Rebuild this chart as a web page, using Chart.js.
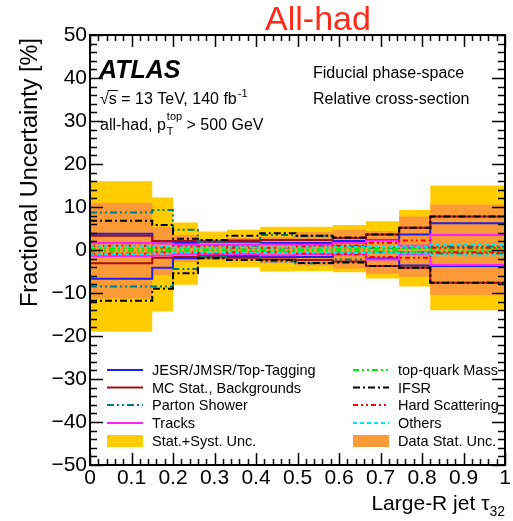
<!DOCTYPE html>
<html><head><meta charset="utf-8">
<script src="https://cdn.jsdelivr.net/npm/chart.js@4/dist/chart.umd.min.js"></script>
<style>html,body{margin:0;padding:0;background:#fff;} canvas{display:block;}</style>
</head><body>
<canvas id="c" width="513" height="521"></canvas>
<script>
// ---- data ----
const binEdges = [0, 0.15, 0.2, 0.26, 0.33, 0.41, 0.495, 0.585, 0.665, 0.745, 0.82, 1.0];
const totalUp    = [16.0, 12.2, 6.4, 4.3, 4.7, 5.4, 5.4, 5.8, 6.7, 9.3, 15.0];
const totalDown  = [-19.0, -14.3, -8.1, -4.0, -4.0, -5.0, -4.9, -5.2, -6.6, -8.5, -14.0];
const dataStatUp   = [11.0, 5.4, 3.5, 2.5, 2.8, 3.1, 4.2, 4.7, 4.4, 7.8, 10.6];
const dataStatDown = [-11.3, -5.8, -2.8, -2.3, -2.5, -3.0, -3.6, -4.3, -5.5, -6.2, -10.5];
const jesUp    = [3.8, 2.0, 1.7, 1.9, 1.9, 1.6, 1.6, 2.1, 2.3, 3.6, 6.2];
const jesDown  = [-6.7, -4.1, -1.9, -1.4, -1.4, -1.6, -1.6, -0.9, -2.0, -3.6, -3.7];
const mcUp     = [3.3, 2.1, 2.1, 2.0, 2.2, 2.3, 2.3, 2.8, 3.6, 5.2, 7.8];
const mcDown   = [-3.1, -1.8, -1.6, -1.7, -1.8, -2.2, -2.3, -2.7, -3.7, -4.1, -7.6];
const psUp     = [8.7, 9.3, 4.7, 2.0, 1.0, 3.5, 3.3, 0.8, 0.5, 0.5, 0.8];
const psDown   = [-8.5, -8.5, -4.4, -1.5, -1.0, -2.7, -3.1, -2.2, -0.5, -0.5, -0.8];
const tracksUp   = [1.6, 1.5, 1.2, 1.2, 1.2, 1.3, 1.2, 1.6, 2.2, 1.0, 3.5];
const tracksDown = [-1.4, -1.3, -1.0, -1.0, -1.0, -1.2, -1.0, -1.0, -2.2, -1.0, -3.5];
const massUp   = [0.3, 0.2, 0.3, 0.2, 0.2, 0.2, 0.2, 0.3, 0.3, 0.4, 0.3];
const massDown = [-0.3, -0.2, -0.3, -0.2, -0.2, -0.2, -0.2, -0.3, -0.3, -0.4, -0.3];
const ifsrUp   = [6.8, 5.8, 2.6, 2.3, 3.3, 3.9, 3.3, 2.9, 3.6, 5.2, 7.8];
const ifsrDown = [-11.8, -9.0, -5.4, -1.9, -2.3, -2.3, -3.0, -2.9, -3.7, -4.1, -7.6];
const hsUp     = [1.0, 0.6, 0.8, 0.8, 0.5, 0.5, 0.8, 1.0, 1.7, 2.2, 0.5];
const hsDown   = [-0.9, -0.6, -0.6, -0.8, -0.5, -0.5, -0.8, -1.0, -1.6, -1.8, -0.5];
const othersUp   = [1.0, 0.8, 0.6, 0.6, 0.6, 0.6, 0.6, 0.7, 0.7, 0.8, 1.2];
const othersDown = [-1.0, -0.8, -0.6, -0.6, -0.6, -0.6, -0.6, -0.7, -0.7, -0.8, -1.2];
const xTicks = [0, 0.1, 0.2, 0.3, 0.4, 0.5, 0.6, 0.7, 0.8, 0.9, 1];
const yTicks = [-50, -40, -30, -20, -10, 0, 10, 20, 30, 40, 50];

const FONT = '"Liberation Sans", Arial, Helvetica, sans-serif';

function stepData(vals) {
  const pts = vals.map((v, i) => ({x: binEdges[i], y: v}));
  pts.push({x: binEdges[vals.length], y: vals[vals.length - 1]});
  return pts;
}

const systs = [
  {label: 'JESR/JMSR/Top-Tagging', up: jesUp, down: jesDown, color: '#2020e8', dash: [], col: 0, row: 0},
  {label: 'MC Stat., Backgrounds', up: mcUp, down: mcDown, color: '#a01212', dash: [], col: 0, row: 1},
  {label: 'Parton Shower', up: psUp, down: psDown, color: '#007a7a', dash: [7, 3, 2, 3, 2, 3], col: 0, row: 2},
  {label: 'Tracks', up: tracksUp, down: tracksDown, color: '#ff22ff', dash: [], col: 0, row: 3},
  {label: 'top-quark Mass', up: massUp, down: massDown, color: '#00ee00', dash: [6, 3, 2, 3, 2, 3], col: 1, row: 0},
  {label: 'IFSR', up: ifsrUp, down: ifsrDown, color: '#000000', dash: [7, 3, 2, 3], col: 1, row: 1},
  {label: 'Hard Scattering', up: hsUp, down: hsDown, color: '#ff0000', dash: [5, 3, 2, 3, 2, 3], col: 1, row: 2},
  {label: 'Others', up: othersUp, down: othersDown, color: '#00e8e8', dash: [4, 3], col: 1, row: 3}
];
const bands = [
  {label: 'Stat.+Syst. Unc.', up: totalUp, down: totalDown, color: '#ffcc00', col: 0, row: 4, order: 30},
  {label: 'Data Stat. Unc.', up: dataStatUp, down: dataStatDown, color: '#fd9a38', col: 1, row: 4, order: 20}
];

const datasets = [];
bands.forEach(b => {
  datasets.push({data: stepData(b.up), stepped: 'before', borderWidth: 0, borderColor: 'rgba(0,0,0,0)',
    backgroundColor: b.color, fill: '+1', pointRadius: 0, order: b.order});
  datasets.push({data: stepData(b.down), stepped: 'before', borderWidth: 0, borderColor: 'rgba(0,0,0,0)',
    backgroundColor: b.color, fill: false, pointRadius: 0, order: b.order});
});
systs.forEach((s, k) => {
  [s.up, s.down].forEach(arr => {
    datasets.push({data: stepData(arr), stepped: 'before', borderWidth: 2, borderColor: s.color,
      borderDash: s.dash, fill: false, pointRadius: 0, order: 10 - k});
  });
});

const CA = {left: 90, right: 505, top: 35, bottom: 465};

const decorPlugin = {
  id: 'decor',
  afterDraw(chart) {
    const ctx = chart.ctx;
    const a = chart.chartArea;
    const xs = chart.scales.x, ys = chart.scales.y;
    ctx.save();
    ctx.strokeStyle = '#000';
    ctx.lineWidth = 2;
    ctx.strokeRect(a.left, a.top, a.right - a.left, a.bottom - a.top);
    ctx.lineWidth = 1.5;
    for (let i = 0; i <= 50; i++) {
      const v = i * 0.02;
      const px = Math.round(xs.getPixelForValue(v)) + 0.5;
      const L = (i % 5 === 0) ? 12 : 6;
      ctx.beginPath();
      ctx.moveTo(px, a.bottom); ctx.lineTo(px, a.bottom - L);
      ctx.moveTo(px, a.top); ctx.lineTo(px, a.top + L);
      ctx.stroke();
    }
    for (let i = 0; i <= 50; i++) {
      const v = -50 + i * 2;
      const py = Math.round(ys.getPixelForValue(v)) + 0.5;
      const L = (i % 5 === 0) ? 13 : 7;
      ctx.beginPath();
      ctx.moveTo(a.left, py); ctx.lineTo(a.left + L, py);
      ctx.moveTo(a.right, py); ctx.lineTo(a.right - L, py);
      ctx.stroke();
    }
    ctx.textBaseline = 'alphabetic';
    ctx.fillStyle = '#ff2b1a';
    ctx.font = '34px ' + FONT;
    ctx.textAlign = 'center';
    ctx.fillText('All-had', 318, 30);
    ctx.fillStyle = '#000';
    ctx.save();
    ctx.translate(37, 38);
    ctx.rotate(-Math.PI / 2);
    ctx.textAlign = 'right';
    ctx.font = '23.5px ' + FONT;
    ctx.fillText('Fractional Uncertainty [%]', 0, 0);
    ctx.restore();
    ctx.textAlign = 'left';
    ctx.font = '21px ' + FONT;
    const t1 = 'Large-R jet \u03C4';
    const w1 = ctx.measureText(t1).width;
    ctx.font = '14px ' + FONT;
    const w2 = ctx.measureText('32').width;
    const x0 = 505 - w1 - w2;
    ctx.font = '21px ' + FONT;
    ctx.fillText(t1, x0, 510);
    ctx.font = '14px ' + FONT;
    ctx.fillText('32', x0 + w1, 516);
    ctx.font = 'bold italic 25px ' + FONT;
    ctx.fillText('ATLAS', 99, 78);
    ctx.font = '16px ' + FONT;
    let s1 = '\u221As = 13 TeV, 140 fb';
    ctx.fillText(s1, 100, 104);
    const wr = ctx.measureText('\u221A').width;
    const wsS = ctx.measureText('s').width;
    ctx.lineWidth = 1;
    ctx.strokeStyle = '#000';
    ctx.beginPath(); ctx.moveTo(100 + wr - 1, 90.5); ctx.lineTo(100 + wr + wsS + 1, 90.5); ctx.stroke();
    let ws = ctx.measureText(s1).width;
    ctx.font = '11px ' + FONT;
    ctx.fillText('-1', 100 + ws + 1, 97);
    ctx.font = '16px ' + FONT;
    let s2 = 'all-had, p';
    ctx.fillText(s2, 100, 130);
    let w3 = ctx.measureText(s2).width;
    ctx.font = '11px ' + FONT;
    ctx.fillText('T', 100 + w3 + 1, 135);
    ctx.fillText('top', 100 + w3 + 1, 120);
    let wt = ctx.measureText('top').width;
    ctx.font = '16px ' + FONT;
    ctx.fillText(' > 500 GeV', 100 + w3 + 1 + wt, 130);
    ctx.fillText('Fiducial phase-space', 313, 78);
    ctx.fillText('Relative cross-section', 313, 104);
    const colSample = [107, 353], colText = [152, 398];
    const rowY = [370, 387.5, 405, 423, 441];
    ctx.font = '14.5px ' + FONT;
    ctx.textBaseline = 'middle';
    systs.forEach(s => {
      const y = rowY[s.row], x = colSample[s.col];
      ctx.strokeStyle = s.color; ctx.lineWidth = 2; ctx.setLineDash(s.dash);
      ctx.beginPath(); ctx.moveTo(x, y); ctx.lineTo(x + 36, y); ctx.stroke();
      ctx.setLineDash([]);
      ctx.fillStyle = '#000';
      ctx.fillText(s.label, colText[s.col], y + 1);
    });
    bands.forEach(b => {
      const y = rowY[b.row], x = colSample[b.col];
      ctx.fillStyle = b.color;
      ctx.fillRect(x, y - 6, 36, 12);
      ctx.fillStyle = '#000';
      ctx.fillText(b.label, colText[b.col], y + 1);
    });
    ctx.restore();
  }
};

new Chart(document.getElementById('c'), {
  type: 'line',
  data: {datasets},
  options: {
    responsive: false, animation: false, devicePixelRatio: 1,
    layout: {padding: {left: 0, right: 513 - CA.right, top: CA.top, bottom: 0}},
    plugins: {legend: {display: false}, tooltip: {enabled: false}, title: {display: false}},
    scales: {
      x: {type: 'linear', min: 0, max: 1,
        afterFit(s) { s.height = 521 - CA.bottom; },
        afterBuildTicks(s) { s.ticks = xTicks.map(v => ({value: v})); },
        grid: {display: false, drawTicks: false}, border: {display: false},
        ticks: {padding: 1, color: '#000', font: {family: FONT, size: 21}, maxRotation: 0, autoSkip: false,
          callback: v => (v === 0 || v === 1) ? String(v) : v.toFixed(1)}},
      y: {type: 'linear', min: -50, max: 50,
        afterFit(s) { s.width = CA.left; },
        afterBuildTicks(s) { s.ticks = yTicks.map(v => ({value: v})); },
        grid: {display: false, drawTicks: false}, border: {display: false},
        ticks: {padding: 3, color: '#000', font: {family: FONT, size: 21}, autoSkip: false,
          callback: v => v < 0 ? '\u2212' + Math.abs(v) : String(v)}}
    }
  },
  plugins: [decorPlugin]
});
</script>
</body></html>
